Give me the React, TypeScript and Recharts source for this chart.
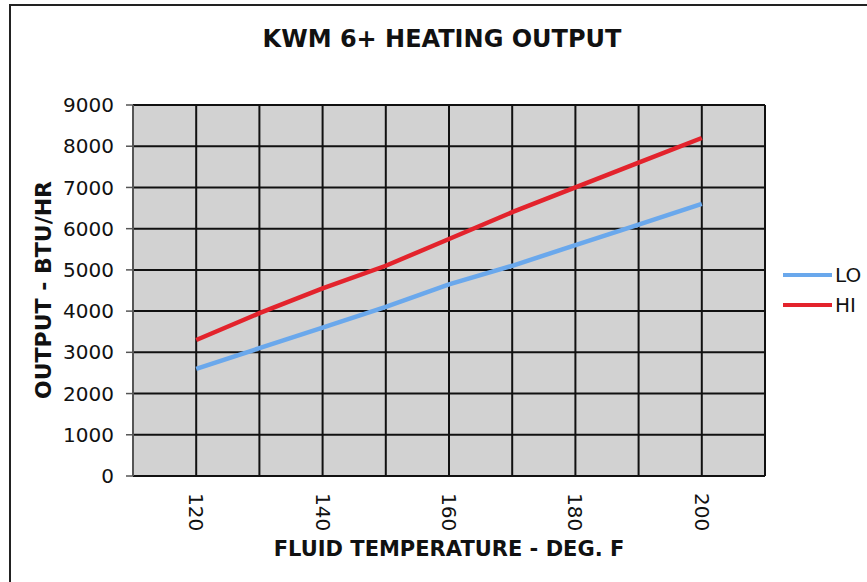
import React from "react";
import { LineChart, Line, XAxis, YAxis, CartesianGrid } from "recharts";

const temps = [120, 130, 140, 150, 160, 170, 180, 190, 200];
const loOutput = [2600, 3100, 3600, 4100, 4650, 5100, 5600, 6100, 6600];
const hiOutput = [3300, 3950, 4550, 5100, 5750, 6400, 7000, 7600, 8200];
const gridTemps = [110, 120, 130, 140, 150, 160, 170, 180, 190, 200, 210];
const labelTemps = [120, 140, 160, 180, 200];
const outputTicks = [0, 1000, 2000, 3000, 4000, 5000, 6000, 7000, 8000, 9000];

const LO_COLOR = "#6aa8ec";
const HI_COLOR = "#e3232c";
const FONT = "'DejaVu Sans', Verdana, sans-serif";

const chartData = temps.map((t, i) => ({ temp: t, LO: loOutput[i], HI: hiOutput[i] }));
const legendItems = [
  { name: "LO", color: LO_COLOR },
  { name: "HI", color: HI_COLOR },
];

const TempTick = (props: any) => {
  const { x, y, payload } = props;
  if (!labelTemps.includes(payload.value)) return null;
  return (
    <text
      transform={`translate(${x},${y + 9}) rotate(90)`}
      textAnchor="start"
      dominantBaseline="central"
      fontSize={20}
      fontFamily={FONT}
      fill="#111"
    >
      {payload.value}
    </text>
  );
};

const App: React.FC = () => {
  return (
    <div style={{ position: "absolute", left: 0, top: 0, width: 867, height: 582, background: "#fff", overflow: "hidden" }}>
      <div style={{ position: "absolute", left: 9, top: 4, right: 0, height: 2, background: "#222" }} />
      <div style={{ position: "absolute", left: 9, top: 4, bottom: 0, width: 2, background: "#222" }} />
      <div
        style={{
          position: "absolute",
          left: 0,
          width: 884,
          top: 25,
          textAlign: "center",
          fontFamily: FONT,
          fontWeight: "bold",
          fontSize: 24,
          color: "#111",
        }}
      >
        KWM 6+ HEATING OUTPUT
      </div>
      <div
        style={{
          position: "absolute",
          left: 0,
          width: 898,
          top: 537,
          textAlign: "center",
          fontFamily: FONT,
          fontWeight: "bold",
          fontSize: 21,
          color: "#111",
        }}
      >
        FLUID TEMPERATURE - DEG. F
      </div>
      <div
        style={{
          position: "absolute",
          left: 43,
          top: 290,
          transform: "translate(-50%, -50%) rotate(-90deg)",
          whiteSpace: "nowrap",
          fontFamily: FONT,
          fontWeight: "bold",
          fontSize: 22,
          color: "#111",
        }}
      >
        OUTPUT - BTU/HR
      </div>
      <div style={{ position: "absolute", left: 783, top: 260, fontFamily: FONT, fontSize: 20, color: "#111" }}>
        {legendItems.map((s) => (
          <div key={s.name} style={{ display: "flex", alignItems: "center", height: 30 }}>
            <div style={{ width: 49, height: 4, background: s.color, marginRight: 3 }} />
            <span>{s.name}</span>
          </div>
        ))}
      </div>
      <div style={{ position: "absolute", left: 0, top: 0 }}>
        <LineChart
          width={867}
          height={582}
          data={chartData}
          margin={{ top: 105, right: 102, bottom: 46, left: 73 }}
        >
          <CartesianGrid stroke="#111" strokeWidth={2} fill="#d2d2d2" fillOpacity={1} />
          <XAxis
            dataKey="temp"
            type="number"
            domain={[110, 210]}
            ticks={gridTemps}
            interval={0}
            tickLine={false}
            axisLine={{ stroke: "#111", strokeWidth: 2 }}
            height={60}
            tick={<TempTick />}
          />
          <YAxis
            type="number"
            domain={[0, 9000]}
            ticks={outputTicks}
            interval={0}
            width={60}
            tickSize={7}
            tickMargin={12}
            tickLine={{ stroke: "#555", strokeWidth: 1.5 }}
            axisLine={{ stroke: "#555", strokeWidth: 2 }}
            tick={{ fontSize: 20, fontFamily: FONT, fill: "#111" }}
          />
          <Line
            type="linear"
            dataKey="LO"
            stroke={LO_COLOR}
            strokeWidth={4.5}
            dot={false}
            isAnimationActive={false}
          />
          <Line
            type="linear"
            dataKey="HI"
            stroke={HI_COLOR}
            strokeWidth={4.5}
            dot={false}
            isAnimationActive={false}
          />
        </LineChart>
      </div>
    </div>
  );
};

export default App;
